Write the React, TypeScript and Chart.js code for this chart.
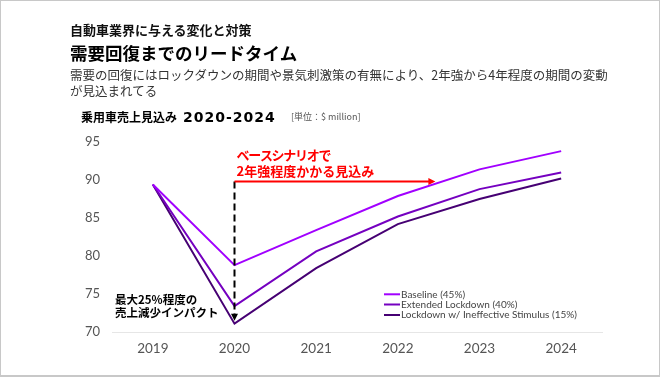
import React, { useEffect, useRef } from "react";
import { Chart, registerables } from "chart.js";

Chart.register(...registerables);

const years = ["2019", "2020", "2021", "2022", "2023", "2024"];
const baseline = [89.4, 78.8, 83.4, 87.9, 91.4, 93.8];
const extended = [89.4, 73.4, 80.6, 85.2, 88.8, 91.0];
const lockdown = [89.4, 71.1, 78.4, 84.2, 87.5, 90.2];
const seriesLabels = [
  "Baseline (45%)",
  "Extended Lockdown (40%)",
  "Lockdown w/ Ineffective Stimulus (15%)",
];
const seriesColors = ["#a100ff", "#7500c0", "#460073"];
const yMin = 70;
const yMax = 95;
const yStep = 5;
const recoveryLevel = 89.8;
const redNote = ["ベースシナリオで", "2年強程度かかる見込み"];
const blackNote = ["最大25%程度の", "売上減少インパクト"];

const JP = "'Noto Sans CJK JP', 'Noto Sans', sans-serif";
const LAT = "Lato, 'Noto Sans', sans-serif";

const notesPlugin = {
  id: "notes",
  afterDatasetsDraw(chart: any) {
    const { ctx, scales, chartArea } = chart;
    const x = scales.x;
    const y = scales.y;
    const x2020 = x.getPixelForValue(1);
    const step = x.getPixelForValue(2) - x2020;
    const yTop = y.getPixelForValue(recoveryLevel);
    const tipY = y.getPixelForValue(lockdown[1]) - 3;
    ctx.save();
    // dashed vertical
    ctx.strokeStyle = "#000";
    ctx.lineWidth = 2;
    ctx.setLineDash([7, 4]);
    ctx.beginPath();
    ctx.moveTo(x2020, yTop);
    ctx.lineTo(x2020, tipY - 5);
    ctx.stroke();
    ctx.setLineDash([]);
    ctx.fillStyle = "#000";
    ctx.beginPath();
    ctx.moveTo(x2020 - 3.5, tipY - 7);
    ctx.lineTo(x2020 + 3.5, tipY - 7);
    ctx.lineTo(x2020, tipY);
    ctx.closePath();
    ctx.fill();
    // red horizontal arrow
    const tipX = x2020 + 2.46 * step;
    ctx.strokeStyle = "#ff0000";
    ctx.fillStyle = "#ff0000";
    ctx.lineWidth = 2;
    ctx.beginPath();
    ctx.moveTo(x2020, yTop);
    ctx.lineTo(tipX - 5, yTop);
    ctx.stroke();
    ctx.beginPath();
    ctx.moveTo(tipX - 7, yTop - 3.5);
    ctx.lineTo(tipX - 7, yTop + 3.5);
    ctx.lineTo(tipX, yTop);
    ctx.closePath();
    ctx.fill();
    // red text
    ctx.textAlign = "left";
    ctx.textBaseline = "middle";
    ctx.font = `bold 13px ${JP}`;
    (ctx as any).letterSpacing = "-1.3px";
    ctx.fillText(redNote[0], x2020 + 2, yTop - 26.5);
    (ctx as any).letterSpacing = "0px";
    ctx.fillText(redNote[1], x2020 + 2, yTop - 10);
    // black text
    ctx.fillStyle = "#000";
    ctx.font = `bold 11.5px ${JP}`;
    ctx.fillText(blackNote[0], chartArea.left + 3, chartArea.bottom - 32);
    ctx.fillText(blackNote[1], chartArea.left + 3, chartArea.bottom - 19);
    // legend
    ctx.font = `10px ${LAT}`;
    const lx = chartArea.left + 272;
    const rows = [chartArea.bottom - 37.7, chartArea.bottom - 27.5, chartArea.bottom - 17];
    seriesLabels.forEach((lab, i) => {
      ctx.strokeStyle = seriesColors[i];
      ctx.lineWidth = 2;
      ctx.beginPath();
      ctx.moveTo(lx, rows[i]);
      ctx.lineTo(lx + 16, rows[i]);
      ctx.stroke();
      ctx.fillStyle = "#444";
      ctx.fillText(lab, lx + 17, rows[i]);
    });
    ctx.restore();
  },
};

export default function App() {
  const ref = useRef<HTMLCanvasElement | null>(null);
  useEffect(() => {
    if (!ref.current) return;
    const series = [baseline, extended, lockdown];
    const chart = new Chart(ref.current, {
      type: "line",
      data: {
        labels: years,
        datasets: series.map((d, i) => ({
          label: seriesLabels[i],
          data: d,
          borderColor: seriesColors[i],
          backgroundColor: seriesColors[i],
          borderWidth: 2,
          pointRadius: 0,
          tension: 0,
          fill: false,
        })),
      },
      options: {
        responsive: false,
        maintainAspectRatio: false,
        animation: false,
        devicePixelRatio: 1,
        layout: { padding: { top: 142, right: 58, left: 0, bottom: 0 } },
        plugins: { legend: { display: false }, tooltip: { enabled: false } },
        scales: {
          x: {
            type: "category",
            offset: true,
            grid: { display: false, drawTicks: false },
            border: { display: true, color: "#e6e6e6", width: 1 },
            ticks: { color: "#555", font: { family: LAT, size: 13.5 }, padding: 9 },
            afterFit: (s: any) => {
              s.height = 45;
            },
          },
          y: {
            min: yMin,
            max: yMax,
            grid: { display: false, drawTicks: false },
            border: { display: false },
            ticks: {
              stepSize: yStep,
              color: "#555",
              font: { family: LAT, size: 13 },
              padding: 12,
            },
            afterFit: (s: any) => {
              s.width = 112;
            },
          },
        },
      },
      plugins: [notesPlugin],
    } as any);
    return () => chart.destroy();
  }, []);

  return (
    <div
      style={{
        position: "absolute",
        left: 0,
        top: 0,
        width: 660,
        height: 377,
        background: "#fff",
        overflow: "hidden",
      }}
    >
      <canvas ref={ref} width={660} height={377} style={{ position: "absolute", left: 0, top: 0, width: 660, height: 377 }} />
      <div style={{ position: "absolute", left: 70, top: 22, font: `bold 13px/16px ${JP}`, color: "#111", whiteSpace: "nowrap" }}>
        自動車業界に与える変化と対策
      </div>
      <div style={{ position: "absolute", left: 70, top: 42, font: `bold 17.5px/22px ${JP}`, color: "#000", whiteSpace: "nowrap" }}>
        需要回復までのリードタイム
      </div>
      <div style={{ position: "absolute", left: 70, top: 67, font: `12.5px/16px ${JP}`, color: "#333", whiteSpace: "nowrap" }}>
        需要の回復にはロックダウンの期間や景気刺激策の有無により、2年強から4年程度の期間の変動
        <br />
        が見込まれてる
      </div>
      <div style={{ position: "absolute", left: 81, top: 108, font: `bold 12px/18px ${JP}`, color: "#000", whiteSpace: "nowrap" }}>
        乗用車売上見込み
      </div>
      <div style={{ position: "absolute", left: 183, top: 108, font: `bold 14px/18px 'DejaVu Sans', sans-serif`, letterSpacing: "1px", color: "#000", whiteSpace: "nowrap" }}>
        2020-2024
      </div>
      <div style={{ position: "absolute", left: 291, top: 109, font: `9px/16px ${JP}`, color: "#555", whiteSpace: "nowrap" }}>
        [単位：$ million]
      </div>
      <div
        style={{
          position: "absolute",
          inset: 0,
          borderTop: "1px solid #c8c8c8",
          borderLeft: "1px solid #c8c8c8",
          borderRight: "1px solid #c8c8c8",
          borderBottom: "2px solid #c8c8c8",
          boxSizing: "border-box",
          pointerEvents: "none",
        }}
      />
    </div>
  );
}
